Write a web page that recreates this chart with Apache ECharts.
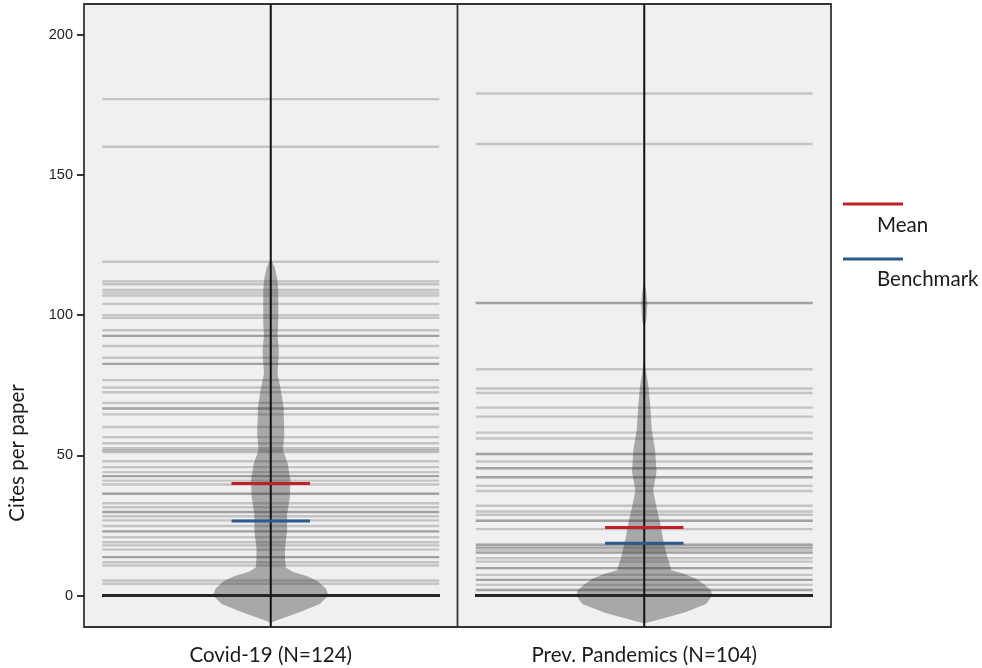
<!DOCTYPE html>
<html><head><meta charset="utf-8">
<script src="https://cdn.jsdelivr.net/npm/echarts@6/dist/echarts.min.js"></script>
<style>html,body{margin:0;padding:0;background:#fff}#c{width:982px;height:668px}</style>
</head><body><div id="c"></div>
<script>
// ---------------- data ----------------
const categories = ['Covid-19 (N=124)', 'Prev. Pandemics (N=104)'];
const yTickValues = [0, 50, 100, 150, 200];

// cites per paper, one value per paper (rug lines)
const covidCites = [
  177, 160, 119, 112, 111, 109, 108, 107, 104, 100, 99, 94.6, 92.6, 92.6, 89, 84.8, 82.6, 82.6,
  76.8, 74.2, 72.5, 68.7, 66.7, 66.7, 64.6, 60.1, 56.5, 54.3, 52.5,
  51.8, 51.2, 47.9, 45.8, 44, 42.6, 42.6, 41, 39.6, 36.3, 36.3, 32.9, 31.5, 29.8, 29.8, 28.3,
  26.8, 24.8, 22.9, 22.9, 20.8, 19, 17.9, 16.4, 13.7, 13.7, 11.9, 10.7, 5.4, 4.2,
  0, 0, 0, 0, 0, 0, 0, 0, 0, 0, 0, 0, 0, 0, 0, 0, 0, 0, 0, 0,
  0, 0, 0, 0, 0, 0, 0, 0, 0, 0, 0, 0, 0, 0, 0, 0, 0, 0, 0, 0,
  0, 0, 0, 0, 0, 0, 0, 0, 0, 0, 0, 0, 0, 0, 0, 0, 0, 0, 0, 0,
  0, 0, 0, 0, 0
];
const prevCites = [
  179, 161, 104.3, 104.3, 80.7, 73.8, 72.2, 67, 63.8, 58.1, 56, 50.5, 50.5, 47.8, 45.4, 45.4,
  42.2, 42.2, 39.1, 37.3, 32, 30, 28.8, 26.7, 26.7, 23.7, 18.1, 18.1, 17.1, 17.1, 16.2, 15.3, 15.3,
  13.3, 12.1, 9.8, 9.8, 7.4, 5.6, 5.6, 3.8, 2, 2,
  0, 0, 0, 0, 0, 0, 0, 0, 0, 0, 0, 0, 0, 0, 0, 0, 0, 0, 0, 0,
  0, 0, 0, 0, 0, 0, 0, 0, 0, 0, 0, 0, 0, 0, 0, 0, 0, 0, 0, 0,
  0, 0, 0, 0, 0, 0, 0, 0, 0, 0, 0, 0, 0, 0, 0, 0, 0, 0, 0, 0,
  0
];
const meanValues = [40.0, 24.3];
const benchmarkValues = [26.6, 18.7];

// violin outline: [cites, relative density]
const covidViolin = [
  [-9.8, 0], [-9, 0.07], [-6, 0.41], [-3, 0.72], [0, 0.85], [2.5, 0.81], [5, 0.70], [7, 0.53],
  [8.5, 0.32], [10, 0.22], [13, 0.21], [17, 0.21], [23, 0.24], [29, 0.24], [35, 0.28], [41, 0.29],
  [47, 0.25], [52, 0.18], [58, 0.20], [64, 0.19], [67, 0.19], [73, 0.15], [79, 0.10], [87, 0.12],
  [93, 0.10], [97, 0.11], [103, 0.11], [109, 0.11], [113, 0.095], [117, 0.06], [120, 0]
];
const prevViolin = [
  [-9.9, 0], [-9, 0.15], [-6, 0.59], [-3, 0.91], [0, 1.0], [1.8, 0.98], [4, 0.88], [6, 0.76],
  [7.7, 0.59], [9, 0.40], [13.7, 0.34], [19.6, 0.28], [25.6, 0.235], [31.5, 0.18], [37.5, 0.13],
  [44, 0.18], [52, 0.16], [59, 0.11], [67, 0.09], [75, 0.06], [81.6, 0.015], [85, 0.004],
  [96, 0.004], [98, 0.03], [104, 0.045], [108, 0.03], [112.5, 0]
];

// ---------------- drawing ----------------
const citeGroups = [covidCites, prevCites];
const violins = [covidViolin, prevViolin];
const Y_MIN = -11.2, Y_MAX = 210.9;
const RUG_HALF = 0.451, VIOLIN_HALF = 0.182, MEAN_HALF = 0.105;

const rugData = [];
citeGroups.forEach((arr, g) => arr.forEach(v => rugData.push([g, v])));

const chart = echarts.init(document.getElementById('c'), null, {renderer: 'canvas'});

function violinItem(params, api) {
  const g = params.dataIndex;
  const prof = violins[g];
  const c = g + 0.5;
  const pts = [];
  prof.forEach(p => pts.push(api.coord([c + p[1] * VIOLIN_HALF, p[0]])));
  for (let i = prof.length - 1; i >= 0; i--) pts.push(api.coord([c - prof[i][1] * VIOLIN_HALF, prof[i][0]]));
  return {type: 'polygon', shape: {points: pts}, style: {fill: 'rgba(95,95,95,0.5)'}};
}

chart.setOption({
  animation: false,
  backgroundColor: '#ffffff',
  grid: {left: 84, right: 151, top: 4, bottom: 41, show: true, backgroundColor: '#f0f0f0',
         borderColor: '#333', borderWidth: 1.8},
  xAxis: {
    type: 'value', min: 0, max: 2,
    axisLine: {show: false}, axisTick: {show: false}, splitLine: {show: false},
    axisLabel: {customValues: [0.5, 1.5], formatter: v => categories[Math.floor(v)],
                fontFamily: 'Lato', fontSize: 20.5, color: '#1a1a1a', margin: 18}
  },
  yAxis: {
    type: 'value', min: Y_MIN, max: Y_MAX,
    axisLine: {show: false}, splitLine: {show: false},
    axisTick: {show: true, customValues: yTickValues, length: 7, lineStyle: {color: '#222', width: 1.8}},
    axisLabel: {customValues: yTickValues, fontFamily: 'Liberation Sans', fontSize: 14.5, color: '#222', margin: 11}
  },
  graphic: [
    {type: 'text', x: 17, y: 453, rotation: Math.PI / 2,
     style: {text: 'Cites per paper', font: '20.5px Lato', fill: '#1a1a1a', align: 'center', verticalAlign: 'middle'}},
    {type: 'line', shape: {x1: 843, y1: 204, x2: 903, y2: 204}, style: {stroke: '#c0202a', lineWidth: 3}},
    {type: 'text', x: 877, y: 225, style: {text: 'Mean', font: '20.5px Lato', fill: '#1a1a1a', verticalAlign: 'middle'}},
    {type: 'line', shape: {x1: 843, y1: 259, x2: 903, y2: 259}, style: {stroke: '#2c5a8c', lineWidth: 3}},
    {type: 'text', x: 877, y: 279, style: {text: 'Benchmark', font: '20.5px Lato', fill: '#1a1a1a', verticalAlign: 'middle'}}
  ],
  series: [
    {
      type: 'custom', data: [0, 1], z: 2,
      renderItem: violinItem
    },
    {
      type: 'custom', data: rugData, z: 3,
      renderItem: (params, api) => {
        const g = api.value(0), v = api.value(1);
        const a = api.coord([g + 0.5 - RUG_HALF, v]);
        const b = api.coord([g + 0.5 + RUG_HALF, v]);
        return {type: 'line', shape: {x1: a[0], y1: a[1], x2: b[0], y2: b[1]},
                style: {stroke: 'rgba(40,40,40,0.22)', lineWidth: 2.4}};
      }
    },
    {
      type: 'custom', data: [0, 1, 2], z: 4,
      renderItem: (params, api) => {
        const i = params.dataIndex;
        const x = i === 2 ? 1 : i + 0.5;
        const a = api.coord([x, Y_MIN]);
        const b = api.coord([x, Y_MAX]);
        return {type: 'line', shape: {x1: a[0], y1: a[1], x2: b[0], y2: b[1]},
                style: {stroke: i === 2 ? '#333' : '#111', lineWidth: i === 2 ? 1.8 : 2}};
      }
    },
    {
      type: 'custom', z: 5,
      data: meanValues.map((v, g) => [g, v, 0]).concat(benchmarkValues.map((v, g) => [g, v, 1])),
      renderItem: (params, api) => {
        const g = api.value(0), v = api.value(1), k = api.value(2);
        const a = api.coord([g + 0.5 - MEAN_HALF, v]);
        const b = api.coord([g + 0.5 + MEAN_HALF, v]);
        return {type: 'line', shape: {x1: a[0], y1: a[1], x2: b[0], y2: b[1]},
                style: {stroke: k === 0 ? '#c0202a' : '#2c5a8c', lineWidth: 3}};
      }
    }
  ]
});
</script></body></html>
